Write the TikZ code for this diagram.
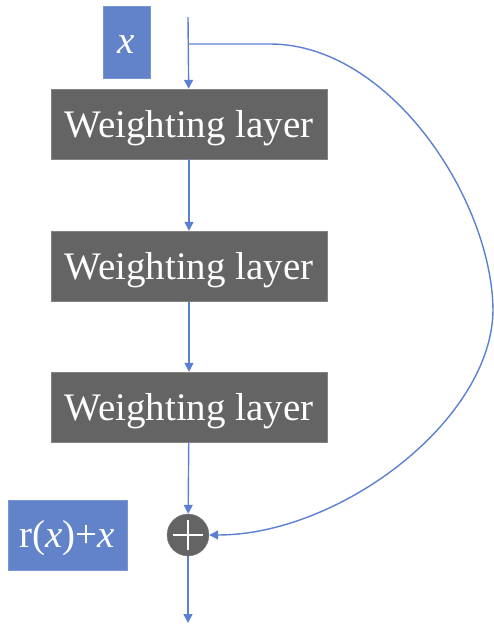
\documentclass[tikz,border=0pt]{standalone}
\usepackage{fontspec}
\setmainfont{Liberation Serif}
\usetikzlibrary{arrows.meta,positioning}
\definecolor{inblue}{HTML}{6283C9}
\definecolor{flowblue}{HTML}{5B80D2}
\definecolor{layergray}{HTML}{646464}

\begin{document}
\begin{tikzpicture}[x=1pt,y=-1pt,>={Triangle[width=9pt,length=9pt]},
  layer/.style={fill=layergray,draw=layergray!80,text=white,minimum width=276pt,
    minimum height=70pt,inner sep=0pt,text height=26pt,text depth=0pt,
    font=\fontsize{39}{44}\selectfont},
  io/.style={fill=inblue,draw=inblue!85,text=white,inner sep=0pt,
    text height=24pt,text depth=0pt,font=\fontsize{39}{44}\selectfont},
  sumnode/.style={circle,fill=layergray,draw=layergray!80,minimum size=42pt,inner sep=0pt,
    path picture={\draw[white,line width=1.5pt]
      ([xshift=-15pt]path picture bounding box.center) -- ([xshift=15pt]path picture bounding box.center)
      ([yshift=-15pt]path picture bounding box.center) -- ([yshift=15pt]path picture bounding box.center);}},
  flow/.style={flowblue,line width=1.4pt}]
  \useasboundingbox (0,0) rectangle (494,629);

  \node[io,minimum width=47pt,minimum height=72pt,text height=22pt] (x) at (126.5,42) {\textit{x}};
  \foreach \i/\y in {1/124, 2/266, 3/407}
    \node[layer] (l\i) at (189,\y) {Weighting layer};
  \node[sumnode] (add) at (188,535) {};
  \node[io,minimum width=119pt,minimum height=70pt] (rx) at (67.5,535) {r(\textit{x})+\textit{x}};

  \coordinate (top) at (188,17);
  \coordinate (split) at (188,44);
  \coordinate (out) at (188,623);
  \coordinate (far) at (493,310);

  \draw[flow,->] (top) -- (l1);
  \draw[flow,->] (l1) -- (l2);
  \draw[flow,->] (l2) -- (l3);
  \draw[flow,->] (l3) -- (add);
  \draw[flow,->] (add) -- (out);
  % shortcut round the layers
  \draw[flow,->] (split) -- (270,44) .. controls (390,44) and (492,200) .. (far)
    .. controls (492,420) and (340,535) .. (add.east);
\end{tikzpicture}
\end{document}
